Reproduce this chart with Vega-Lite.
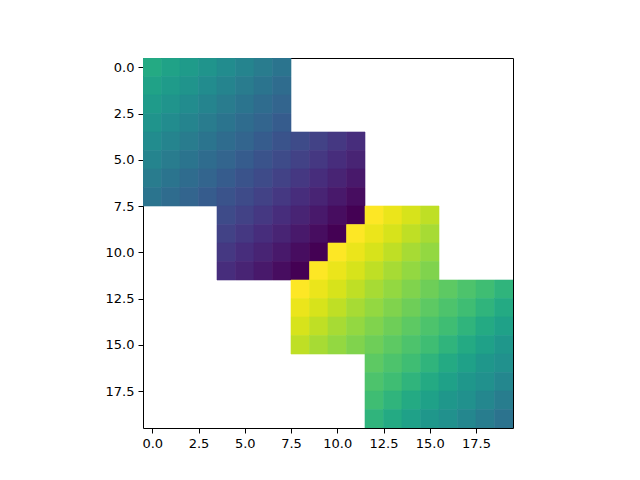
{
  "$schema": "https://vega.github.io/schema/vega-lite/v6.json",
  "autosize": {"type": "none"},
  "padding": {"left": 143, "top": 58, "right": 127, "bottom": 52},
  "width": 370,
  "height": 370,
  "background": "white",
  "config": {
    "view": {"stroke": "black", "strokeWidth": 1},
    "axis": {
      "grid": false,
      "domain": false,
      "tickColor": "black",
      "tickSize": 5,
      "tickWidth": 1,
      "labelColor": "black",
      "labelFont": "DejaVu Sans",
      "labelFontSize": 13,
      "labelPadding": 4,
      "title": null
    }
  },
  "data": {
    "values": [
      {"r":0,"c":0,"v":0.608},{"r":0,"c":1,"v":0.576},{"r":0,"c":2,"v":0.544},{"r":0,"c":3,"v":0.512},{"r":0,"c":4,"v":0.480},{"r":0,"c":5,"v":0.448},{"r":0,"c":6,"v":0.416},{"r":0,"c":7,"v":0.384},
      {"r":1,"c":0,"v":0.576},{"r":1,"c":1,"v":0.544},{"r":1,"c":2,"v":0.512},{"r":1,"c":3,"v":0.480},{"r":1,"c":4,"v":0.448},{"r":1,"c":5,"v":0.416},{"r":1,"c":6,"v":0.384},{"r":1,"c":7,"v":0.352},
      {"r":2,"c":0,"v":0.544},{"r":2,"c":1,"v":0.512},{"r":2,"c":2,"v":0.480},{"r":2,"c":3,"v":0.448},{"r":2,"c":4,"v":0.416},{"r":2,"c":5,"v":0.384},{"r":2,"c":6,"v":0.352},{"r":2,"c":7,"v":0.320},
      {"r":3,"c":0,"v":0.512},{"r":3,"c":1,"v":0.480},{"r":3,"c":2,"v":0.448},{"r":3,"c":3,"v":0.416},{"r":3,"c":4,"v":0.384},{"r":3,"c":5,"v":0.352},{"r":3,"c":6,"v":0.320},{"r":3,"c":7,"v":0.288},
      {"r":4,"c":0,"v":0.480},{"r":4,"c":1,"v":0.448},{"r":4,"c":2,"v":0.416},{"r":4,"c":3,"v":0.384},{"r":4,"c":4,"v":0.352},{"r":4,"c":5,"v":0.320},{"r":4,"c":6,"v":0.288},{"r":4,"c":7,"v":0.256},{"r":4,"c":8,"v":0.224},{"r":4,"c":9,"v":0.192},{"r":4,"c":10,"v":0.160},{"r":4,"c":11,"v":0.128},
      {"r":5,"c":0,"v":0.448},{"r":5,"c":1,"v":0.416},{"r":5,"c":2,"v":0.384},{"r":5,"c":3,"v":0.352},{"r":5,"c":4,"v":0.320},{"r":5,"c":5,"v":0.288},{"r":5,"c":6,"v":0.256},{"r":5,"c":7,"v":0.224},{"r":5,"c":8,"v":0.192},{"r":5,"c":9,"v":0.160},{"r":5,"c":10,"v":0.128},{"r":5,"c":11,"v":0.096},
      {"r":6,"c":0,"v":0.416},{"r":6,"c":1,"v":0.384},{"r":6,"c":2,"v":0.352},{"r":6,"c":3,"v":0.320},{"r":6,"c":4,"v":0.288},{"r":6,"c":5,"v":0.256},{"r":6,"c":6,"v":0.224},{"r":6,"c":7,"v":0.192},{"r":6,"c":8,"v":0.160},{"r":6,"c":9,"v":0.128},{"r":6,"c":10,"v":0.096},{"r":6,"c":11,"v":0.064},
      {"r":7,"c":0,"v":0.384},{"r":7,"c":1,"v":0.352},{"r":7,"c":2,"v":0.320},{"r":7,"c":3,"v":0.288},{"r":7,"c":4,"v":0.256},{"r":7,"c":5,"v":0.224},{"r":7,"c":6,"v":0.192},{"r":7,"c":7,"v":0.160},{"r":7,"c":8,"v":0.128},{"r":7,"c":9,"v":0.096},{"r":7,"c":10,"v":0.064},{"r":7,"c":11,"v":0.032},
      {"r":8,"c":4,"v":0.224},{"r":8,"c":5,"v":0.192},{"r":8,"c":6,"v":0.160},{"r":8,"c":7,"v":0.128},{"r":8,"c":8,"v":0.096},{"r":8,"c":9,"v":0.064},{"r":8,"c":10,"v":0.032},{"r":8,"c":11,"v":0.000},{"r":8,"c":12,"v":1.000},{"r":8,"c":13,"v":0.970},{"r":8,"c":14,"v":0.940},{"r":8,"c":15,"v":0.905},
      {"r":9,"c":4,"v":0.192},{"r":9,"c":5,"v":0.160},{"r":9,"c":6,"v":0.128},{"r":9,"c":7,"v":0.096},{"r":9,"c":8,"v":0.064},{"r":9,"c":9,"v":0.032},{"r":9,"c":10,"v":0.000},{"r":9,"c":11,"v":1.000},{"r":9,"c":12,"v":0.970},{"r":9,"c":13,"v":0.940},{"r":9,"c":14,"v":0.905},{"r":9,"c":15,"v":0.870},
      {"r":10,"c":4,"v":0.160},{"r":10,"c":5,"v":0.128},{"r":10,"c":6,"v":0.096},{"r":10,"c":7,"v":0.064},{"r":10,"c":8,"v":0.032},{"r":10,"c":9,"v":0.000},{"r":10,"c":10,"v":1.000},{"r":10,"c":11,"v":0.970},{"r":10,"c":12,"v":0.940},{"r":10,"c":13,"v":0.905},{"r":10,"c":14,"v":0.870},{"r":10,"c":15,"v":0.840},
      {"r":11,"c":4,"v":0.128},{"r":11,"c":5,"v":0.096},{"r":11,"c":6,"v":0.064},{"r":11,"c":7,"v":0.032},{"r":11,"c":8,"v":0.000},{"r":11,"c":9,"v":1.000},{"r":11,"c":10,"v":0.970},{"r":11,"c":11,"v":0.940},{"r":11,"c":12,"v":0.905},{"r":11,"c":13,"v":0.870},{"r":11,"c":14,"v":0.840},{"r":11,"c":15,"v":0.810},
      {"r":12,"c":8,"v":1.000},{"r":12,"c":9,"v":0.970},{"r":12,"c":10,"v":0.940},{"r":12,"c":11,"v":0.905},{"r":12,"c":12,"v":0.870},{"r":12,"c":13,"v":0.840},{"r":12,"c":14,"v":0.810},{"r":12,"c":15,"v":0.780},{"r":12,"c":16,"v":0.750},{"r":12,"c":17,"v":0.720},{"r":12,"c":18,"v":0.690},{"r":12,"c":19,"v":0.650},
      {"r":13,"c":8,"v":0.970},{"r":13,"c":9,"v":0.940},{"r":13,"c":10,"v":0.905},{"r":13,"c":11,"v":0.870},{"r":13,"c":12,"v":0.840},{"r":13,"c":13,"v":0.810},{"r":13,"c":14,"v":0.780},{"r":13,"c":15,"v":0.750},{"r":13,"c":16,"v":0.720},{"r":13,"c":17,"v":0.690},{"r":13,"c":18,"v":0.650},{"r":13,"c":19,"v":0.610},
      {"r":14,"c":8,"v":0.940},{"r":14,"c":9,"v":0.905},{"r":14,"c":10,"v":0.870},{"r":14,"c":11,"v":0.840},{"r":14,"c":12,"v":0.810},{"r":14,"c":13,"v":0.780},{"r":14,"c":14,"v":0.750},{"r":14,"c":15,"v":0.720},{"r":14,"c":16,"v":0.690},{"r":14,"c":17,"v":0.650},{"r":14,"c":18,"v":0.610},{"r":14,"c":19,"v":0.570},
      {"r":15,"c":8,"v":0.905},{"r":15,"c":9,"v":0.870},{"r":15,"c":10,"v":0.840},{"r":15,"c":11,"v":0.810},{"r":15,"c":12,"v":0.780},{"r":15,"c":13,"v":0.750},{"r":15,"c":14,"v":0.720},{"r":15,"c":15,"v":0.690},{"r":15,"c":16,"v":0.650},{"r":15,"c":17,"v":0.610},{"r":15,"c":18,"v":0.570},{"r":15,"c":19,"v":0.530},
      {"r":16,"c":12,"v":0.750},{"r":16,"c":13,"v":0.720},{"r":16,"c":14,"v":0.690},{"r":16,"c":15,"v":0.650},{"r":16,"c":16,"v":0.610},{"r":16,"c":17,"v":0.570},{"r":16,"c":18,"v":0.530},{"r":16,"c":19,"v":0.500},
      {"r":17,"c":12,"v":0.720},{"r":17,"c":13,"v":0.690},{"r":17,"c":14,"v":0.650},{"r":17,"c":15,"v":0.610},{"r":17,"c":16,"v":0.570},{"r":17,"c":17,"v":0.530},{"r":17,"c":18,"v":0.500},{"r":17,"c":19,"v":0.460},
      {"r":18,"c":12,"v":0.690},{"r":18,"c":13,"v":0.650},{"r":18,"c":14,"v":0.610},{"r":18,"c":15,"v":0.570},{"r":18,"c":16,"v":0.530},{"r":18,"c":17,"v":0.500},{"r":18,"c":18,"v":0.460},{"r":18,"c":19,"v":0.420},
      {"r":19,"c":12,"v":0.650},{"r":19,"c":13,"v":0.610},{"r":19,"c":14,"v":0.570},{"r":19,"c":15,"v":0.530},{"r":19,"c":16,"v":0.500},{"r":19,"c":17,"v":0.460},{"r":19,"c":18,"v":0.420},{"r":19,"c":19,"v":0.380}
    ]
  },
  "mark": {"type": "rect", "width": 18.5, "height": 18.5, "strokeWidth": 0.6, "clip": true},
  "encoding": {
    "x": {
      "field": "c",
      "type": "quantitative",
      "scale": {"domain": [-0.5, 19.5], "nice": false, "zero": false},
      "axis": {"values": [0, 2.5, 5, 7.5, 10, 12.5, 15, 17.5], "format": ".1f", "labelFlush": false}
    },
    "y": {
      "field": "r",
      "type": "quantitative",
      "scale": {"domain": [-0.5, 19.5], "nice": false, "zero": false, "reverse": true},
      "axis": {"values": [0, 2.5, 5, 7.5, 10, 12.5, 15, 17.5], "format": ".1f", "labelFlush": false}
    },
    "color": {
      "field": "v",
      "type": "quantitative",
      "scale": {"scheme": "viridis", "domain": [0, 1]},
      "legend": null
    },
    "stroke": {
      "field": "v",
      "type": "quantitative",
      "scale": {"scheme": "viridis", "domain": [0, 1]},
      "legend": null
    }
  }
}
